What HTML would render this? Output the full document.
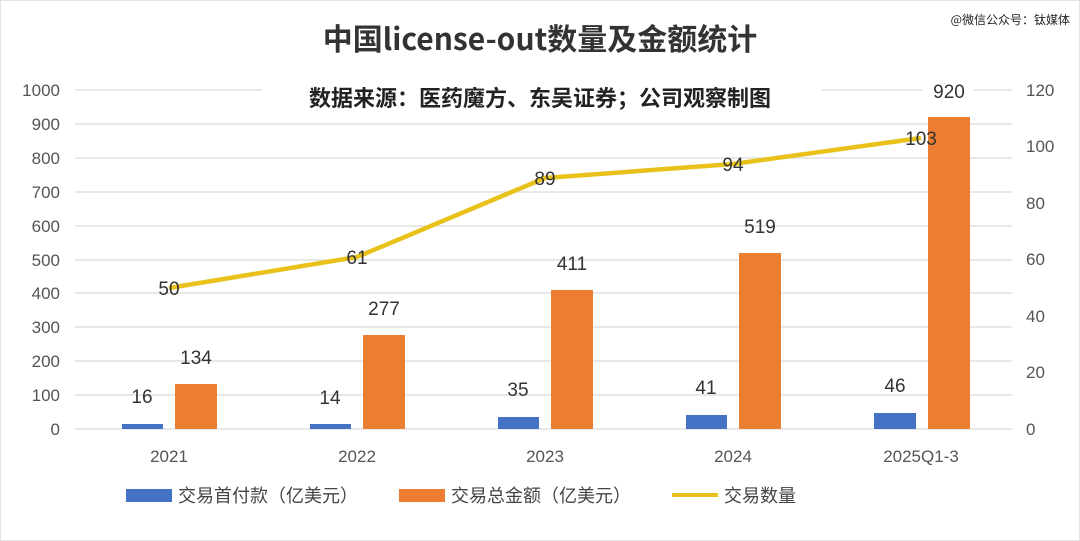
<!DOCTYPE html>
<html><head><meta charset="utf-8"><style>
html,body{margin:0;padding:0;background:#fff;}
svg{display:block;font-family:"Liberation Sans","Noto Sans CJK SC",sans-serif;}
</style></head><body>
<svg width="1080" height="541" viewBox="0 0 1080 541" xmlns="http://www.w3.org/2000/svg">
<rect x="0" y="0" width="1080" height="541" fill="#fff"/>
<rect x="0.5" y="0.5" width="1079" height="540" fill="none" stroke="#e4e4e4"/>
<text x="540" y="50" text-anchor="middle" font-size="30" font-weight="bold" fill="#333" font-family="'Noto Sans CJK SC',sans-serif">中国license-out数量及金额统计</text>
<text x="1070" y="24" text-anchor="end" font-size="12" fill="#222" font-family="'Noto Sans CJK SC',sans-serif">@微信公众号：钛媒体</text>
<g stroke="#d9d9d9" stroke-width="1.3">
<line x1="75" y1="90" x2="1012" y2="90"/><line x1="75" y1="124" x2="1012" y2="124"/><line x1="75" y1="158" x2="1012" y2="158"/><line x1="75" y1="192" x2="1012" y2="192"/><line x1="75" y1="226" x2="1012" y2="226"/><line x1="75" y1="260" x2="1012" y2="260"/><line x1="75" y1="293" x2="1012" y2="293"/><line x1="75" y1="327" x2="1012" y2="327"/><line x1="75" y1="361" x2="1012" y2="361"/><line x1="75" y1="395" x2="1012" y2="395"/><line x1="75" y1="429" x2="1012" y2="429"/>
</g>
<rect x="262" y="72" width="560" height="44" fill="#fff"/>
<text x="540" y="106" text-anchor="middle" font-size="22" font-weight="bold" fill="#222" font-family="'Noto Sans CJK SC',sans-serif">数据来源：医药魔方、东吴证券；公司观察制图</text>
<g font-size="17" fill="#555" text-anchor="end">
<text x="60" y="96">1000</text><text x="60" y="130">900</text><text x="60" y="164">800</text><text x="60" y="198">700</text><text x="60" y="232">600</text><text x="60" y="266">500</text><text x="60" y="299">400</text><text x="60" y="333">300</text><text x="60" y="367">200</text><text x="60" y="401">100</text><text x="60" y="435">0</text>
</g>
<g font-size="17" fill="#555" text-anchor="start">
<text x="1026" y="96">120</text><text x="1026" y="152">100</text><text x="1026" y="209">80</text><text x="1026" y="265">60</text><text x="1026" y="322">40</text><text x="1026" y="378">20</text><text x="1026" y="435">0</text>
</g>
<g fill="#4472c4">
<rect x="122" y="424" width="41" height="5"/>
<rect x="310" y="424" width="41" height="5"/>
<rect x="498" y="417" width="41" height="12"/>
<rect x="686" y="415" width="41" height="14"/>
<rect x="874" y="413" width="42" height="16"/>
</g>
<g fill="#ed7d31">
<rect x="175" y="384" width="42" height="45"/>
<rect x="363" y="335" width="42" height="94"/>
<rect x="551" y="290" width="42" height="139"/>
<rect x="739" y="253" width="42" height="176"/>
<rect x="928" y="117" width="42" height="312"/>
</g>
<rect x="922" y="76" width="52" height="28" fill="#fff"/>
<polyline points="169,288 357,257 545,178 733,164 921,138" fill="none" stroke="#e8c21a" stroke-width="4.5" stroke-linejoin="round"/>
<g font-size="19" fill="#333" text-anchor="middle">
<text x="142" y="403">16</text><text x="330" y="404">14</text><text x="518" y="396">35</text><text x="706" y="394">41</text><text x="895" y="392">46</text>
<text x="196" y="364">134</text><text x="384" y="315">277</text><text x="572" y="270">411</text><text x="760" y="233">519</text><text x="949" y="98">920</text>
<text x="169" y="295">50</text><text x="357" y="264">61</text><text x="545" y="185">89</text><text x="733" y="171">94</text><text x="921" y="145">103</text>
</g>
<g font-size="17" fill="#555" text-anchor="middle">
<text x="169" y="462">2021</text><text x="357" y="462">2022</text><text x="545" y="462">2023</text><text x="733" y="462">2024</text><text x="921" y="462">2025Q1-3</text>
</g>
<rect x="126" y="489" width="46" height="13" fill="#4472c4"/>
<text x="178" y="502" font-size="18" fill="#444" font-family="'Noto Sans CJK SC',sans-serif">交易首付款（亿美元）</text>
<rect x="399" y="489" width="46" height="13" fill="#ed7d31"/>
<text x="451" y="502" font-size="18" fill="#444" font-family="'Noto Sans CJK SC',sans-serif">交易总金额（亿美元）</text>
<line x1="672" y1="495" x2="718" y2="495" stroke="#e8c21a" stroke-width="4"/>
<text x="724" y="502" font-size="18" fill="#444" font-family="'Noto Sans CJK SC',sans-serif">交易数量</text>
</svg>
</body></html>
